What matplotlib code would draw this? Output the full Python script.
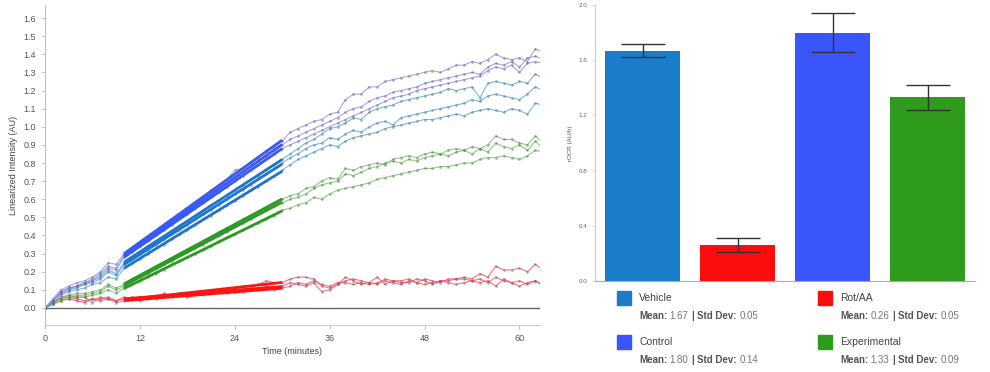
import numpy as np
import matplotlib.pyplot as plt
from matplotlib.colors import to_rgba
from matplotlib.patches import Rectangle

plt.rcParams['font.family'] = ['Liberation Sans', 'DejaVu Sans']

# linearized intensity traces, one reading per minute (AU)
control_a = [0.00, 0.05, 0.10, 0.12, 0.14, 0.15, 0.17, 0.20, 0.25, 0.24,
             0.30, 0.33, 0.36, 0.39, 0.42, 0.46, 0.49, 0.52, 0.55, 0.58,
             0.61, 0.65, 0.68, 0.71, 0.76, 0.77, 0.80, 0.83, 0.86, 0.89,
             0.92, 0.97, 0.99, 1.01, 1.03, 1.04, 1.07, 1.08, 1.15, 1.18,
             1.18, 1.22, 1.22, 1.25, 1.26, 1.27, 1.28, 1.29, 1.30, 1.31,
             1.30, 1.32, 1.34, 1.34, 1.36, 1.35, 1.37, 1.40, 1.38, 1.37,
             1.38, 1.36, 1.43, 1.41]
control_b = [0.00, 0.04, 0.09, 0.11, 0.12, 0.14, 0.16, 0.19, 0.23, 0.22,
             0.29, 0.32, 0.35, 0.38, 0.41, 0.44, 0.47, 0.50, 0.54, 0.57,
             0.60, 0.63, 0.66, 0.69, 0.72, 0.75, 0.78, 0.81, 0.84, 0.87,
             0.90, 0.93, 0.95, 0.97, 0.99, 1.01, 1.03, 1.05, 1.08, 1.10,
             1.11, 1.14, 1.16, 1.17, 1.19, 1.20, 1.21, 1.22, 1.24, 1.25,
             1.26, 1.27, 1.28, 1.29, 1.30, 1.29, 1.33, 1.35, 1.34, 1.36,
             1.33, 1.38, 1.39, 1.37]
control_c = [0.00, 0.04, 0.08, 0.10, 0.12, 0.13, 0.15, 0.18, 0.22, 0.21,
             0.28, 0.31, 0.34, 0.37, 0.40, 0.43, 0.46, 0.49, 0.52, 0.55,
             0.58, 0.61, 0.64, 0.67, 0.70, 0.73, 0.76, 0.79, 0.82, 0.85,
             0.88, 0.90, 0.92, 0.94, 0.96, 0.98, 1.00, 1.02, 1.04, 1.06,
             1.08, 1.10, 1.12, 1.14, 1.16, 1.17, 1.18, 1.20, 1.21, 1.22,
             1.23, 1.24, 1.25, 1.26, 1.27, 1.28, 1.31, 1.33, 1.32, 1.34,
             1.30, 1.35, 1.36, 1.35]

vehicle_a = [0.00, 0.04, 0.09, 0.11, 0.12, 0.14, 0.15, 0.17, 0.21, 0.19,
             0.25, 0.28, 0.31, 0.34, 0.37, 0.39, 0.42, 0.45, 0.48, 0.51,
             0.54, 0.57, 0.59, 0.62, 0.65, 0.68, 0.71, 0.73, 0.76, 0.79,
             0.82, 0.85, 0.88, 0.91, 0.93, 0.96, 0.99, 1.00, 1.02, 1.05,
             1.04, 1.08, 1.10, 1.11, 1.12, 1.14, 1.15, 1.16, 1.17, 1.18,
             1.19, 1.21, 1.20, 1.21, 1.22, 1.16, 1.24, 1.25, 1.24, 1.23,
             1.25, 1.24, 1.29, 1.27]
vehicle_b = [0.00, 0.04, 0.08, 0.10, 0.11, 0.13, 0.14, 0.16, 0.20, 0.18,
             0.24, 0.27, 0.30, 0.32, 0.35, 0.38, 0.41, 0.43, 0.46, 0.49,
             0.52, 0.54, 0.57, 0.60, 0.63, 0.65, 0.68, 0.71, 0.74, 0.77,
             0.80, 0.83, 0.85, 0.88, 0.90, 0.91, 0.94, 0.93, 0.96, 0.98,
             0.97, 1.00, 1.02, 1.03, 1.01, 1.05, 1.06, 1.07, 1.08, 1.09,
             1.10, 1.11, 1.12, 1.13, 1.15, 1.14, 1.17, 1.18, 1.17, 1.16,
             1.15, 1.18, 1.22, 1.20]
vehicle_c = [0.00, 0.03, 0.07, 0.09, 0.10, 0.11, 0.13, 0.14, 0.17, 0.16,
             0.22, 0.25, 0.27, 0.30, 0.33, 0.35, 0.38, 0.41, 0.43, 0.46,
             0.49, 0.51, 0.54, 0.57, 0.59, 0.62, 0.65, 0.67, 0.70, 0.73,
             0.76, 0.79, 0.82, 0.84, 0.86, 0.88, 0.90, 0.89, 0.92, 0.94,
             0.95, 0.96, 0.97, 0.99, 1.00, 1.01, 1.02, 1.03, 1.04, 1.04,
             1.05, 1.06, 1.07, 1.06, 1.08, 1.09, 1.10, 1.09, 1.08, 1.10,
             1.09, 1.07, 1.13, 1.12]

exp_a = [0.00, 0.03, 0.05, 0.07, 0.08, 0.08, 0.09, 0.10, 0.13, 0.11,
         0.13, 0.16, 0.18, 0.20, 0.23, 0.25, 0.27, 0.30, 0.32, 0.34,
         0.37, 0.39, 0.42, 0.44, 0.46, 0.49, 0.51, 0.53, 0.55, 0.58,
         0.60, 0.62, 0.63, 0.66, 0.67, 0.70, 0.72, 0.71, 0.77, 0.76,
         0.78, 0.79, 0.80, 0.79, 0.82, 0.83, 0.84, 0.83, 0.85, 0.86,
         0.85, 0.87, 0.88, 0.87, 0.89, 0.88, 0.90, 0.95, 0.93, 0.93,
         0.91, 0.90, 0.95, 0.91]
exp_b = [0.00, 0.03, 0.05, 0.06, 0.07, 0.07, 0.08, 0.09, 0.12, 0.10,
         0.12, 0.15, 0.17, 0.19, 0.22, 0.24, 0.26, 0.29, 0.31, 0.33,
         0.35, 0.38, 0.40, 0.42, 0.45, 0.47, 0.49, 0.52, 0.54, 0.56,
         0.58, 0.60, 0.61, 0.63, 0.66, 0.68, 0.69, 0.70, 0.74, 0.73,
         0.75, 0.77, 0.78, 0.80, 0.81, 0.80, 0.82, 0.81, 0.83, 0.84,
         0.85, 0.84, 0.86, 0.87, 0.85, 0.88, 0.86, 0.91, 0.89, 0.88,
         0.90, 0.87, 0.92, 0.88]
exp_c = [0.00, 0.02, 0.04, 0.05, 0.06, 0.06, 0.07, 0.08, 0.10, 0.08,
         0.11, 0.13, 0.15, 0.17, 0.19, 0.21, 0.24, 0.26, 0.28, 0.30,
         0.32, 0.34, 0.37, 0.39, 0.41, 0.43, 0.45, 0.47, 0.49, 0.51,
         0.54, 0.55, 0.57, 0.58, 0.61, 0.60, 0.63, 0.65, 0.66, 0.67,
         0.68, 0.69, 0.71, 0.72, 0.73, 0.74, 0.75, 0.76, 0.77, 0.77,
         0.78, 0.78, 0.79, 0.80, 0.80, 0.82, 0.83, 0.83, 0.84, 0.83,
         0.82, 0.84, 0.87, 0.86]

rot_a = [0.00, 0.03, 0.05, 0.06, 0.05, 0.04, 0.05, 0.05, 0.06, 0.04,
         0.06, 0.05, 0.06, 0.05, 0.07, 0.07, 0.07, 0.08, 0.07, 0.09,
         0.08, 0.10, 0.09, 0.11, 0.10, 0.12, 0.12, 0.13, 0.15, 0.14,
         0.14, 0.16, 0.17, 0.17, 0.16, 0.12, 0.11, 0.13, 0.15, 0.16,
         0.15, 0.14, 0.17, 0.13, 0.15, 0.15, 0.16, 0.14, 0.16, 0.15,
         0.14, 0.16, 0.16, 0.17, 0.16, 0.19, 0.17, 0.23, 0.21, 0.21,
         0.22, 0.20, 0.24, 0.21]
rot_b = [0.00, 0.03, 0.06, 0.07, 0.06, 0.06, 0.03, 0.06, 0.05, 0.04,
         0.05, 0.06, 0.05, 0.06, 0.06, 0.08, 0.07, 0.07, 0.08, 0.08,
         0.09, 0.08, 0.09, 0.10, 0.09, 0.10, 0.10, 0.11, 0.12, 0.11,
         0.12, 0.14, 0.13, 0.12, 0.14, 0.09, 0.10, 0.13, 0.17, 0.15,
         0.13, 0.14, 0.13, 0.16, 0.15, 0.14, 0.14, 0.16, 0.15, 0.13,
         0.15, 0.15, 0.16, 0.16, 0.15, 0.16, 0.14, 0.17, 0.15, 0.14,
         0.15, 0.13, 0.15, 0.12]
rot_c = [0.00, 0.02, 0.04, 0.05, 0.04, 0.03, 0.05, 0.04, 0.05, 0.03,
         0.04, 0.05, 0.04, 0.06, 0.05, 0.06, 0.06, 0.07, 0.06, 0.07,
         0.07, 0.08, 0.08, 0.08, 0.09, 0.09, 0.10, 0.10, 0.11, 0.10,
         0.11, 0.12, 0.14, 0.13, 0.15, 0.13, 0.12, 0.14, 0.14, 0.13,
         0.14, 0.13, 0.14, 0.15, 0.14, 0.13, 0.15, 0.14, 0.13, 0.14,
         0.15, 0.14, 0.13, 0.14, 0.15, 0.14, 0.15, 0.12, 0.16, 0.14,
         0.12, 0.14, 0.15, 0.13]

# fit window for the rates (minutes)
fit_start, fit_end = 10, 30

# bar chart (rOCR, AU/h)
bar_names = ['Vehicle', 'Rot/AA', 'Control', 'Experimental']
bar_means = [1.67, 0.26, 1.80, 1.33]
bar_stds = [0.05, 0.05, 0.14, 0.09]
bar_colors = ['#1b7cc9', '#fb0d0d', '#3a55fb', '#2f9b1d']

# (traces, thin colour, fit colour)
groups = [
    ([rot_a, rot_b, rot_c], '#ff3d5a', '#ff1414'),
    ([exp_a, exp_b, exp_c], '#62c052', '#2a9a22'),
    ([vehicle_a, vehicle_b, vehicle_c], '#42a2e0', '#1f74cc'),
    ([control_a, control_b, control_c], '#8686ee', '#3a58f2'),
]

fig = plt.figure(figsize=(9.9, 3.72), dpi=100)

# ---- left: kinetic traces ----
ax = fig.add_axes([45/990, 1-325/372, 495/990, 320/372])
for traces, thin, thick in groups:
    for y in traces:
        y = np.array(y)
        t = np.arange(len(y))
        ax.plot(t, y, color=to_rgba(thin, 0.75), lw=0.8, marker='o', ms=2.0,
                mfc=to_rgba('#666666', 0.5), mew=0, zorder=2)
for traces, thin, thick in groups:
    for y in traces:
        y = np.array(y)
        t = np.arange(len(y))
        m = (t >= fit_start) & (t <= fit_end)
        p = np.polyfit(t[m], y[m], 1)
        xs = np.array([fit_start, fit_end])
        ax.plot(xs, np.polyval(p, xs), color=thick, lw=2.0, solid_capstyle='butt', zorder=3)

ax.axhline(0, color='#666666', lw=1, zorder=1)
ax.set_xlim(0, 62.6)
ax.set_ylim(-0.094, 1.672)
ax.set_xticks([0, 12, 24, 36, 48, 60])
ax.set_yticks(np.arange(0, 1.65, 0.1))
ax.set_yticklabels(['%.1f' % v for v in np.arange(0, 1.65, 0.1)])
for s in ['top', 'right']:
    ax.spines[s].set_visible(False)
ax.spines['left'].set_color('#bbbbbb')
ax.spines['bottom'].set_color('#cccccc')
ax.tick_params(labelsize=6.5, colors='#555555', length=3, width=0.6)
ax.tick_params(axis='both', color='#bbbbbb')
ax.set_xlabel('Time (minutes)', fontsize=6.5, color='#444444', labelpad=3)
ax.set_ylabel('Linearized Intensity (AU)', fontsize=6.5, color='#444444', labelpad=4)

# ---- right: rates ----
bx = fig.add_axes([595/990, 1-281/372, 380/990, 276/372])
pos = np.arange(len(bar_names))
bx.bar(pos, bar_means, width=0.79, color=bar_colors, zorder=2)
bx.errorbar(pos, bar_means, yerr=bar_stds, fmt='none', ecolor='#333333',
            elinewidth=1, capsize=16, capthick=1, zorder=3)
bx.set_xlim(-0.5, 3.5)
bx.set_ylim(0, 2.0)
bx.set_yticks([0.0, 0.4, 0.8, 1.2, 1.6, 2.0])
bx.set_yticklabels(['0.0', '0.4', '0.8', '1.2', '1.6', '2.0'])
bx.set_xticks([])
for s in ['top', 'right']:
    bx.spines[s].set_visible(False)
bx.spines['left'].set_color('#cccccc')
bx.spines['bottom'].set_color('#aaaaaa')
bx.tick_params(labelsize=4.5, colors='#666666', length=2, width=0.5)
bx.tick_params(axis='y', color='#cccccc')
bx.set_ylabel('rOCR (AU/h)', fontsize=4.5, color='#555555', labelpad=4)

# ---- legend under the bars ----
spots = {'Vehicle': (617, 291), 'Control': (617, 335),
         'Rot/AA': (818, 291), 'Experimental': (818, 335)}
for name, mean, sd, col in zip(bar_names, bar_means, bar_stds, bar_colors):
    px, py = spots[name]
    fig.patches.append(Rectangle((px/990, 1-(py+14)/372), 14/990, 14/372,
                                 transform=fig.transFigure, color=col))
    fig.text((px+22)/990, 1-(py+7)/372, name, fontsize=7.5, color='#444444', va='center')
    parts = [('Mean:', 'bold', '#555555', 0), ('%.2f' % mean, 'normal', '#777777', 1.8),
             ('|', 'bold', '#555555', 1.8), ('Std Dev:', 'bold', '#555555', 2.6),
             ('%.2f' % sd, 'normal', '#777777', 1.8)]
    prev = None
    for txt, w, c, gap in parts:
        if prev is None:
            prev = fig.text((px+22)/990, 1-(py+25)/372, txt, fontsize=7,
                            fontweight=w, color=c, va='center')
        else:
            prev = bx.annotate(txt, xy=(1, 0.5), xycoords=prev, xytext=(gap, 0),
                               textcoords='offset points', fontsize=7,
                               fontweight=w, color=c, va='center', ha='left',
                               annotation_clip=False)

fig.savefig('out.png', dpi=100)
